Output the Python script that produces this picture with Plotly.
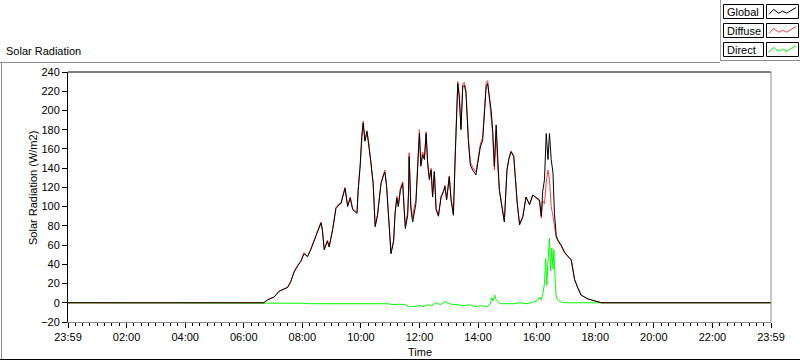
import plotly.graph_objects as go

# ---------------- data (hours of day; -0.0167 = 23:59 of previous day) ----------------
times = [-0.0167, 6.60, 6.67, 6.79, 7.02, 7.19, 7.36, 7.48, 7.59, 7.70, 7.82, 7.93, 8.04, 8.16, 8.27,
         8.39, 8.50, 8.62, 8.67, 8.73, 8.84, 8.90, 9.02, 9.13, 9.24, 9.30, 9.44, 9.53, 9.62, 9.70,
         9.85, 9.89, 9.96, 10.01, 10.06, 10.12, 10.19, 10.25, 10.32, 10.40, 10.44, 10.47, 10.55,
         10.61, 10.67, 10.76, 10.80, 10.86, 10.92, 10.97, 11.01, 11.10, 11.15, 11.21, 11.26, 11.33,
         11.41, 11.46, 11.50, 11.58, 11.61, 11.63, 11.69, 11.75, 11.81, 11.86, 11.90, 11.98, 12.03,
         12.09, 12.15, 12.21, 12.26, 12.32, 12.38, 12.43, 12.49, 12.55, 12.63, 12.72, 12.81, 12.85,
         12.91, 13.00, 13.06, 13.14, 13.21, 13.29, 13.34, 13.40, 13.46, 13.52, 13.57, 13.65, 13.72,
         13.80, 13.91, 13.97, 14.06, 14.14, 14.20, 14.26, 14.31, 14.37, 14.43, 14.48, 14.54, 14.60,
         14.65, 14.71, 14.77, 14.88, 14.97, 15.04, 15.11, 15.20, 15.26, 15.32, 15.40, 15.51, 15.62,
         15.74, 15.85, 15.97, 16.08, 16.14, 16.19, 16.25, 16.31, 16.37, 16.42, 16.48, 16.54, 16.59,
         16.65, 16.71, 16.82, 16.93, 17.05, 17.16, 17.28, 17.39, 17.50, 17.73, 18.02, 18.19, 23.983]

global_rad = [0, 0, 0, 3, 6, 12, 14, 16, 22, 32, 38, 43, 51, 48, 55,
              65, 74, 83, 75, 55, 64, 58, 76, 98, 102, 103, 119, 100, 109, 97,
              93, 117, 143, 173, 187, 168, 178, 166, 147, 124, 100, 79, 91,
              107, 124, 133, 136, 121, 93, 69, 51, 64, 93, 109, 100, 117,
              124, 97, 77, 91, 114, 152, 97, 84, 97, 103, 128, 176, 142,
              154, 149, 176, 145, 128, 138, 110, 136, 97, 90, 110, 116, 121,
              107, 131, 107, 91, 159, 228, 214, 180, 225, 226, 218, 169, 143,
              138, 133, 145, 162, 169, 200, 225, 228, 214, 200, 180, 142, 185,
              145, 117, 105, 84, 138, 150, 157, 152, 128, 103, 81, 89, 110,
              102, 112, 109, 107, 90, 116, 128, 176, 149, 176, 149, 135, 93,
              70, 65, 60, 53, 48, 45, 24, 15, 8, 4, 1, 0, 0]

diffuse_rad = [0, 0, 0, 3, 6, 12, 14, 16, 22, 32, 39, 43, 52, 48, 56,
               66, 75, 84, 76, 56, 65, 59, 77, 99, 103, 104, 120, 101, 110, 98,
               94, 118, 144, 174, 189, 169, 179, 167, 148, 125, 101, 80, 92,
               108, 125, 134, 138, 122, 94, 70, 52, 65, 94, 111, 101, 119,
               126, 99, 80, 95, 118, 156, 101, 88, 101, 106, 131, 180, 145,
               157, 151, 178, 147, 130, 140, 111, 137, 98, 91, 111, 117, 122,
               108, 132, 109, 93, 161, 230, 217, 183, 228, 229, 221, 172, 146,
               141, 136, 148, 165, 172, 203, 229, 231, 213, 197, 176, 138, 180,
               143, 118, 106, 85, 139, 151, 158, 153, 129, 104, 82, 90, 110,
               102, 112, 109, 105, 88, 106, 103, 125, 138, 128, 100, 90, 78,
               68, 64, 59, 52, 48, 45, 24, 15, 8, 4, 1, 0, 0]

direct_times = [-0.0167, 6.70, 7.0, 7.5, 7.8, 8.0, 8.2, 8.5, 8.7, 9.0, 9.3, 9.5, 9.8, 10.0, 10.3,
                10.6, 10.9, 11.1, 11.3, 11.5, 11.6, 11.8, 12.0, 12.1, 12.25, 12.4, 12.55, 12.7,
                12.85, 13.0, 13.15, 13.3, 13.5, 13.7, 13.9, 14.1, 14.3, 14.4, 14.45, 14.5, 14.55,
                14.6, 14.7, 14.8, 15.0, 15.2, 15.4, 15.6, 15.8, 16.0, 16.08, 16.14, 16.2, 16.25,
                16.29, 16.33, 16.36, 16.42, 16.46, 16.50, 16.54, 16.57, 16.62, 16.65, 16.71, 16.8,
                17.0, 17.5, 18.0, 23.983]
direct_rad = [0, 0, 0, 0, -0.5, -0.5, -1, -1, -1, -1, -1.5, -1, -1.5, -1, -1,
              -1.5, -1, -2, -1.5, -2, -4, -4, -3, -4, -2, -3, 0, -2,
              1, -1, -2, -2, -3, -2, -4, -3, -4, -1, 5, 2, 8,
              3, 0, -1, -1, -1, 0, -1, 0, 2, 6, 3, 10, 20,
              46, 18, 38, 67, 33, 57, 35, 55, 19, 6, 3, 1,
              0, 0, 0, 0]

x_tick_hours = [-1/60 + 2 * k for k in range(13)]
x_tick_labels = ["23:59", "02:00", "04:00", "06:00", "08:00", "10:00", "12:00",
                 "14:00", "16:00", "18:00", "20:00", "22:00", "23:59"]
y_ticks = list(range(-20, 241, 20))

series_names = ["Global", "Diffuse", "Direct"]
series_colors = ["#000000", "#ff3c3c", "#00ff00"]

assert len(times) == len(global_rad) == len(diffuse_rad)
assert len(direct_times) == len(direct_rad)

# ---------------- layout geometry ----------------
W, H = 800, 361
L, R, T, B = 68, 29, 72, 39
PW, PH = W - L - R, H - T - B
FONT = "Liberation Sans, Arial, sans-serif"


def px(x):
    return (x - L) / PW


def py(y):
    return (H - B - y) / PH


fig = go.Figure()
fig.add_trace(go.Scatter(x=direct_times, y=direct_rad, mode="lines", name="Direct",
                         line=dict(color=series_colors[2], width=1)))
fig.add_trace(go.Scatter(x=times, y=diffuse_rad, mode="lines", name="Diffuse",
                         line=dict(color=series_colors[1], width=1)))
fig.add_trace(go.Scatter(x=times, y=global_rad, mode="lines", name="Global",
                         line=dict(color=series_colors[0], width=1)))

minor_vals = [-1/60 + 0.25 * k for k in range(97)]

fig.update_layout(
    width=W, height=H,
    margin=dict(l=L, r=R, t=T, b=B),
    paper_bgcolor="white", plot_bgcolor="white",
    showlegend=False,
    font=dict(family=FONT, size=11, color="black"),
    xaxis=dict(range=[-1/60, 24 - 1/60], tickmode="array", tickvals=x_tick_hours,
               ticktext=x_tick_labels, ticks="outside", ticklen=5, tickcolor="black",
               tickwidth=1, showline=True, linecolor="#8c8c8c", linewidth=1,
               showgrid=False, zeroline=False, fixedrange=True,
               tickfont=dict(family=FONT, size=11, color="black"),
               minor=dict(tickmode="array", tickvals=minor_vals, ticks="outside",
                          ticklen=3, tickcolor="black", tickwidth=1, showgrid=False)),
    yaxis=dict(range=[-20, 240], tickmode="array", tickvals=y_ticks,
               ticks="outside", ticklen=5, tickcolor="black", tickwidth=1,
               showline=True, linecolor="black", linewidth=1,
               showgrid=False, zeroline=False, fixedrange=True,
               tickfont=dict(family=FONT, size=11, color="black")),
)

shapes = []
# plot frame: top black, right gray
shapes.append(dict(type="line", xref="paper", yref="paper", x0=0, x1=1, y0=1, y1=1,
                   line=dict(color="black", width=1)))
shapes.append(dict(type="line", xref="paper", yref="paper", x0=1, x1=1, y0=0, y1=1,
                   line=dict(color="#8c8c8c", width=1)))
# outer panel
shapes.append(dict(type="line", xref="paper", yref="paper", x0=px(0), x1=px(720), y0=py(62.5), y1=py(62.5),
                   line=dict(color="#8c8c8c", width=1)))
shapes.append(dict(type="line", xref="paper", yref="paper", x0=px(1.5), x1=px(1.5), y0=py(62), y1=py(360),
                   line=dict(color="#8c8c8c", width=1)))
shapes.append(dict(type="line", xref="paper", yref="paper", x0=px(0), x1=px(800), y0=py(359.5), y1=py(359.5),
                   line=dict(color="black", width=1)))
# legend shadow
shapes.append(dict(type="line", xref="paper", yref="paper", x0=px(720.5), x1=px(720.5), y0=py(0), y1=py(61),
                   line=dict(color="#a0a0a0", width=1)))
shapes.append(dict(type="line", xref="paper", yref="paper", x0=px(720), x1=px(800), y0=py(60.5), y1=py(60.5),
                   line=dict(color="#8c8c8c", width=1)))

annotations = []
row_tops = [4.5, 23.5, 42.5]
zig = [(0.08, 0.70), (0.22, 0.35), (0.38, 0.62), (0.50, 0.48), (0.63, 0.62), (0.92, 0.22)]
for name, color, top in zip(series_names, series_colors, row_tops):
    bot = top + 14
    shapes.append(dict(type="rect", xref="paper", yref="paper", x0=px(723.5), x1=px(763.5),
                       y0=py(bot), y1=py(top), line=dict(color="black", width=1), fillcolor="white"))
    shapes.append(dict(type="rect", xref="paper", yref="paper", x0=px(766.5), x1=px(798.5),
                       y0=py(bot), y1=py(top), line=dict(color="black", width=1), fillcolor="white"))
    pts = [(766.5 + fx * 32, top + fy * 14) for fx, fy in zig]
    path = "M " + " L ".join(f"{px(a):.5f},{py(b):.5f}" for a, b in pts)
    shapes.append(dict(type="path", xref="paper", yref="paper", path=path,
                       line=dict(color=color, width=1)))
    annotations.append(dict(text=name, xref="paper", yref="paper", x=px(725), y=py(top + 7.5),
                            xanchor="left", yanchor="middle", showarrow=False,
                            font=dict(family=FONT, size=11, color="black")))

annotations.append(dict(text="Solar Radiation", xref="paper", yref="paper", x=px(4), y=py(51),
                        xanchor="left", yanchor="middle", showarrow=False,
                        font=dict(family=FONT, size=11, color="black")))
annotations.append(dict(text="Time", xref="paper", yref="paper", x=px(419.5), y=py(352),
                        xanchor="center", yanchor="middle", showarrow=False,
                        font=dict(family=FONT, size=11, color="black")))
annotations.append(dict(text="Solar Radiation (W/m2)", xref="paper", yref="paper", x=px(33), y=py(188),
                        xanchor="center", yanchor="middle", showarrow=False, textangle=-90,
                        font=dict(family=FONT, size=11, color="black")))

fig.update_layout(shapes=shapes, annotations=annotations)
fig.write_html("out.html",
               config={"displayModeBar": False, "staticPlot": True},
               post_script="document.body.style.margin='0';document.body.style.padding='0';"
                           "document.body.style.overflow='hidden';")
